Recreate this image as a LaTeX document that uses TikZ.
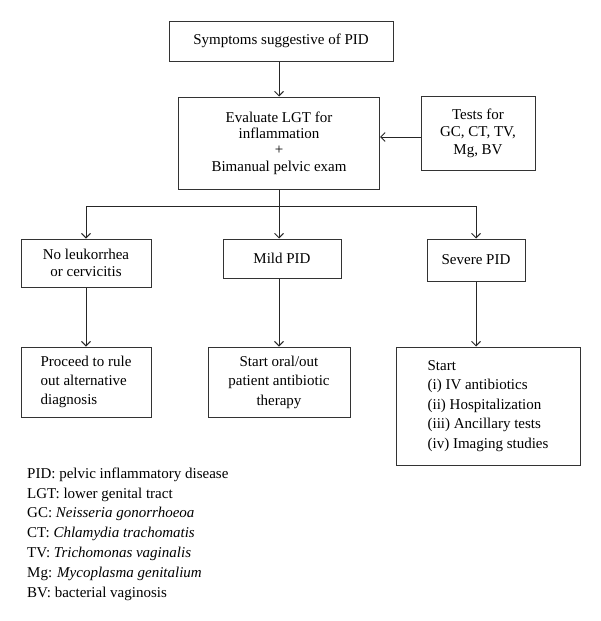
\documentclass[tikz,border=0pt]{standalone}
\usepackage{fontspec}
\setmainfont{Liberation Serif}
\usetikzlibrary{arrows.meta}
\begin{document}
\begin{tikzpicture}[x=1pt,y=-1pt,
  box/.style={draw=black!80, line width=1pt, inner sep=0pt, align=center, font=\fontsize{15}{16.5}\selectfont},
  conn/.style={draw=black!85, line width=0.9pt},
  arr/.style={conn, -{Straight Barb[length=4.5pt,width=9pt]}},
  leg/.style={anchor=base west, inner sep=0pt, font=\fontsize{15}{18}\selectfont}]
\useasboundingbox[fill=white] (0,0) rectangle (600,621);

\node[box, minimum width=224pt, minimum height=40pt] (sym) at (281,41) {Symptoms suggestive of PID};
\node[box, minimum width=201pt, minimum height=92pt, font=\fontsize{15}{16.3}\selectfont] (eval) at (279,143)
  {Evaluate LGT for\\ inflammation\\ +\\ Bimanual pelvic exam};
\node[box, minimum width=114pt, minimum height=74pt, font=\fontsize{15}{17.5}\selectfont] (tests) at (478,133)
  {Tests for\\ GC, CT, TV,\\ Mg, BV};
\coordinate (j) at (279,206);

\node[box, minimum width=130pt, minimum height=48pt, font=\fontsize{15}{17}\selectfont] (nol) at (86,263)
  {No leukorrhea\\ or cervicitis};
\node[box, minimum width=118pt, minimum height=39pt] (mild) at (282,258.5) {Mild PID};
\node[box, minimum width=98pt, minimum height=42pt] (sev) at (476,260) {Severe PID};

\node[box, minimum width=130pt, minimum height=70pt, align=left, font=\fontsize{15}{19}\selectfont] (proc) at (86,382)
  {Proceed to rule\\ out alternative\\ diagnosis};
\node[box, minimum width=142pt, minimum height=70pt, font=\fontsize{15}{19.5}\selectfont] (oral) at (279,382)
  {Start oral/out\\ patient antibiotic\\ therapy};
\node[box, minimum width=184pt, minimum height=118pt, align=left, font=\fontsize{15}{19.6}\selectfont] (start) at (488,406)
  {Start\\ (i) IV antibiotics\\ (ii) Hospitalization\\ (iii) Ancillary tests\\ (iv) Imaging studies};

\draw[arr] (sym.south -| eval.north) -- (eval.north);
\draw[arr] ([yshift=-4pt]tests.west) -- ([yshift=-4pt]tests.west -| eval.east);
\draw[conn] (eval.south) -- (j);
\draw[arr] (j) -| (nol.north);
\draw[arr] (j) -- (j |- mild.north);
\draw[arr] (j) -| (sev.north);
\draw[arr] (nol.south) -- (proc.north);
\draw[arr] (oral.north |- mild.south) -- (oral.north);
\draw[arr] (sev.south) -- (sev.south |- start.north);

\node[leg] (l1) at (27,478) {PID: pelvic inflammatory disease};
\node[leg] (l2) at (27,498) {LGT: lower genital tract};
\node[leg] (l3) at (27,517.6) {GC: \textit{Neisseria gonorrhoeoa}};
\node[leg] (l4) at (27,537.4) {CT: \textit{Chlamydia trachomatis}};
\node[leg] (l5) at (27,557) {TV: \textit{Trichomonas vaginalis}};
\node[leg] (l6) at (27,577) {Mg: \textit{Mycoplasma genitalium}};
\node[leg] (l7) at (27,597) {BV: bacterial vaginosis};
\end{tikzpicture}
\end{document}
